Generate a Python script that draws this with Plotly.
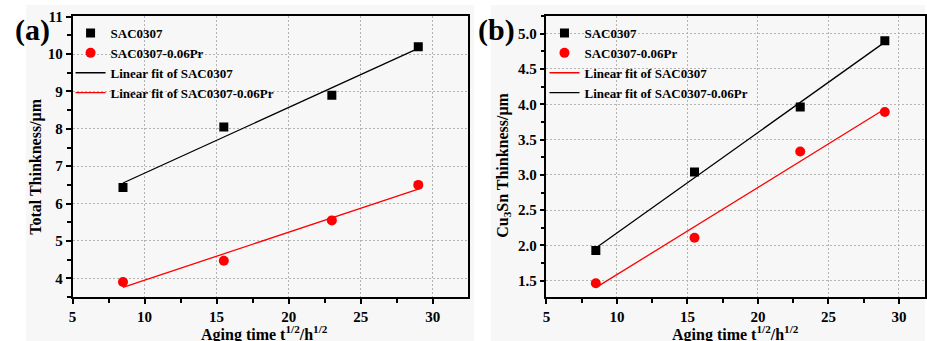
import numpy as np
import plotly.graph_objects as go

# ---- data ----
aging_time = [8.5, 15.5, 23.0, 29.0]
total_sac0307 = [6.43, 8.05, 8.90, 10.20]
total_sac0307_pr = [3.90, 4.47, 5.55, 6.50]
cu3sn_sac0307 = [1.93, 3.04, 3.96, 4.90]
cu3sn_sac0307_pr = [1.465, 2.11, 3.33, 3.89]

x_ticks = [5, 10, 15, 20, 25, 30]
y_ticks_a = [4, 5, 6, 7, 8, 9, 10, 11]
y_ticks_b = [1.5, 2.0, 2.5, 3.0, 3.5, 4.0, 4.5, 5.0]

W, H = 927, 341
FONT = "Liberation Serif"


def fit_line(x, y):
    x = np.asarray(x, float)
    y = np.asarray(y, float)
    k, b = np.polyfit(x, y, 1)
    xs = np.array([x.min(), x.max()])
    return xs, k * xs + b


fig = go.Figure()

# ---- panel (a) ----
fig.add_trace(go.Scatter(x=aging_time, y=total_sac0307, mode="markers", name="SAC0307",
                         marker=dict(symbol="square", size=9, color="black"),
                         xaxis="x", yaxis="y", legend="legend"))
fig.add_trace(go.Scatter(x=aging_time, y=total_sac0307_pr, mode="markers", name="SAC0307-0.06Pr",
                         marker=dict(symbol="circle", size=10, color="#ff0000"),
                         xaxis="x", yaxis="y", legend="legend"))
fx, fy = fit_line(aging_time, total_sac0307)
fig.add_trace(go.Scatter(x=fx, y=fy, mode="lines", name="Linear fit of SAC0307",
                         line=dict(color="black", width=1.3),
                         xaxis="x", yaxis="y", legend="legend"))
fx, fy = fit_line(aging_time, total_sac0307_pr)
fig.add_trace(go.Scatter(x=fx, y=fy, mode="lines", name="Linear fit of SAC0307-0.06Pr",
                         line=dict(color="#ff0000", width=1.3),
                         xaxis="x", yaxis="y", legend="legend"))

# ---- panel (b) ----
fig.add_trace(go.Scatter(x=aging_time, y=cu3sn_sac0307, mode="markers", name="SAC0307",
                         marker=dict(symbol="square", size=9, color="black"),
                         xaxis="x2", yaxis="y2", legend="legend2"))
fig.add_trace(go.Scatter(x=aging_time, y=cu3sn_sac0307_pr, mode="markers", name="SAC0307-0.06Pr",
                         marker=dict(symbol="circle", size=10, color="#ff0000"),
                         xaxis="x2", yaxis="y2", legend="legend2"))
fx, fy = fit_line(aging_time, cu3sn_sac0307_pr)
fig.add_trace(go.Scatter(x=fx, y=fy, mode="lines", name="Linear fit of SAC0307",
                         line=dict(color="#ff0000", width=1.3),
                         xaxis="x2", yaxis="y2", legend="legend2"))
fx, fy = fit_line(aging_time, cu3sn_sac0307)
fig.add_trace(go.Scatter(x=fx, y=fy, mode="lines", name="Linear fit of SAC0307-0.06Pr",
                         line=dict(color="black", width=1.3),
                         xaxis="x2", yaxis="y2", legend="legend2"))

ML, MR, MT, MB = 0, 0, 16, 44
PH = H - MT - MB


def px_x(p):
    return p / W


def px_y(p):
    return (H - MB - p) / PH


tickfont = dict(family=FONT, size=15, color="black", weight="bold")
grid = dict(showgrid=True, gridcolor="#b4b4b4", gridwidth=1, griddash="2px,2px")
axis_common = dict(showline=True, linecolor="black", linewidth=1.5, mirror=True,
                   ticks="outside", ticklen=5, tickwidth=1.5, tickcolor="black",
                   tickfont=tickfont, zeroline=False, **grid)

fig.update_layout(
    width=W, height=H,
    margin=dict(l=ML, r=MR, t=MT, b=MB),
    paper_bgcolor="white",
    plot_bgcolor="#f8f8f8",
    showlegend=True,
    xaxis=dict(domain=[px_x(69), px_x(467)], range=[4.999, 32.45], tickvals=x_ticks,
               minor=dict(dtick=2.5, ticklen=4, tickwidth=1.5, tickcolor="black", ticks="outside", showgrid=False),
               anchor="y", **axis_common),
    yaxis=dict(domain=[0, 1], range=[3.5, 11.02], tickvals=y_ticks_a,
               minor=dict(dtick=0.5, ticklen=4, tickwidth=1.5, tickcolor="black", ticks="outside", showgrid=False),
               anchor="x", **axis_common),
    xaxis2=dict(domain=[px_x(546), 1.0], range=[4.999, 31.85], tickvals=x_ticks,
                minor=dict(dtick=2.5, ticklen=4, tickwidth=1.5, tickcolor="black", ticks="outside", showgrid=False),
                anchor="y2", **axis_common),
    yaxis2=dict(domain=[0, 1], range=[1.27, 5.25], tickvals=y_ticks_b, tickformat=".1f",
                minor=dict(dtick=0.25, ticklen=4, tickwidth=1.5, tickcolor="black", ticks="outside", showgrid=False),
                anchor="x2", **axis_common),
    legend=dict(x=px_x(67), y=px_y(18), xanchor="left", yanchor="top",
                bgcolor="rgba(0,0,0,0)", borderwidth=0, tracegroupgap=0,
                font=dict(family=FONT, size=13, color="black", weight="bold")),
    legend2=dict(x=px_x(544), y=px_y(18), xanchor="left", yanchor="top",
                 bgcolor="rgba(0,0,0,0)", borderwidth=0, tracegroupgap=0,
                 font=dict(family=FONT, size=13, color="black", weight="bold")),
)

# panel backgrounds
fig.add_shape(type="rect", xref="paper", yref="paper", x0=px_x(22), x1=px_x(473),
              y0=px_y(341), y1=px_y(5), fillcolor="#f7f7f7", line_width=0, layer="below")
fig.add_shape(type="rect", xref="paper", yref="paper", x0=px_x(490), x1=1.0,
              y0=px_y(341), y1=px_y(5), fillcolor="#f7f7f7", line_width=0, layer="below")

titlefont = dict(family=FONT, size=16, color="black", weight="bold")
fig.add_annotation(text="Total Thinkness/μm", xref="paper", yref="paper",
                   x=px_x(32), y=px_y(167), textangle=-90, showarrow=False,
                   xanchor="center", yanchor="middle", font=titlefont)
fig.add_annotation(text="Cu<sub>3</sub>Sn Thinkness/μm", xref="paper", yref="paper",
                   x=px_x(502), y=px_y(165), textangle=-90, showarrow=False,
                   xanchor="center", yanchor="middle", font=titlefont)
fig.add_annotation(text="Aging time t<sup>1/2</sup>/h<sup>1/2</sup>", xref="paper", yref="paper",
                   x=px_x(262), y=px_y(333), showarrow=False,
                   xanchor="center", yanchor="middle", font=titlefont)
fig.add_annotation(text="Aging time t<sup>1/2</sup>/h<sup>1/2</sup>", xref="paper", yref="paper",
                   x=px_x(736), y=px_y(333), showarrow=False,
                   xanchor="center", yanchor="middle", font=titlefont)

panelfont = dict(family=FONT, size=30, color="black", weight="bold")
fig.add_annotation(text="(a)", xref="paper", yref="paper", x=px_x(29), y=px_y(30),
                   showarrow=False, xanchor="center", yanchor="middle", font=panelfont)
fig.add_annotation(text="(b)", xref="paper", yref="paper", x=px_x(496), y=px_y(30),
                   showarrow=False, xanchor="center", yanchor="middle", font=panelfont)

fig.write_html("out.html")
